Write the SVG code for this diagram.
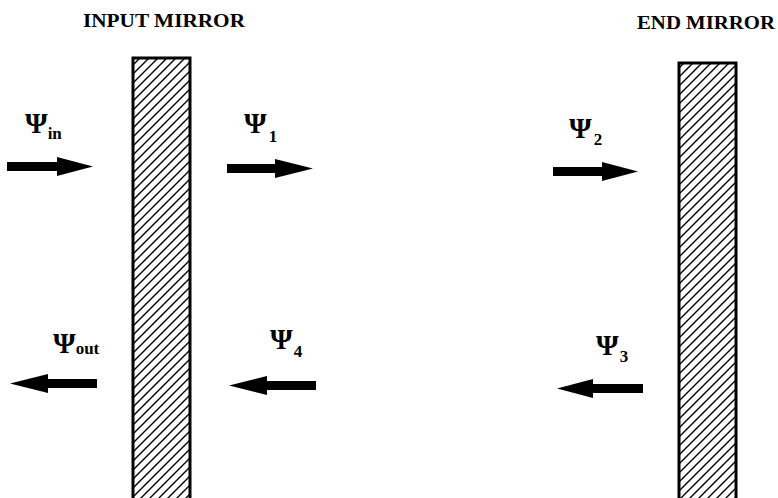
<svg xmlns="http://www.w3.org/2000/svg" width="778" height="498" viewBox="0 0 778 498">
<style>
.t{font-family:"Liberation Serif","Times New Roman",serif;font-weight:bold;fill:#000}
.title{font-size:19px}
.psi{font-size:29px}
.sub{font-size:17px}
.mirror{fill:url(#hatch);stroke:#000;stroke-width:3}
.arrow{fill:#000}
</style>
<defs>
<pattern id="hatch" patternUnits="userSpaceOnUse" width="9" height="9">
<rect width="9" height="9" fill="#fff"/>
<path d="M-2,2 L2,-2 M0,9 L9,0 M7,11 L11,7" stroke="#000" stroke-width="1.4"/>
</pattern>
</defs>
<rect width="778" height="498" fill="#fff"/>
<g id="input-mirror">
<rect class="mirror" x="133" y="58" width="57" height="442"/>
<text class="t title" x="83" y="27" textLength="162" lengthAdjust="spacingAndGlyphs">INPUT MIRROR</text>
</g>
<g id="end-mirror">
<rect class="mirror" x="679" y="63" width="57" height="440"/>
<text class="t title" x="637" y="29" textLength="138" lengthAdjust="spacingAndGlyphs">END MIRROR</text>
</g>
<g id="connectors">
<polygon id="a-in" class="arrow" points="7,162 57,162 57,157 93,166.5 57,176 57,171 7,171"/>
<polygon id="a-1" class="arrow" points="227,164 275,164 275,159 313,168.5 275,178 275,173 227,173"/>
<polygon id="a-2" class="arrow" points="553,167 602,167 602,162 638,171.5 602,181 602,176 553,176"/>
<polygon id="a-out" class="arrow" points="97,379 48,379 48,374 10,383.5 48,393 48,388 97,388"/>
<polygon id="a-4" class="arrow" points="316,381 267,381 267,376 229,385.5 267,395 267,390 316,390"/>
<polygon id="a-3" class="arrow" points="643,384 593,384 593,379 557,388.5 593,398 593,393 643,393"/>
</g>
<g id="label-in"><text class="t psi" x="25" y="133">Ψ<tspan class="sub" dy="6">in</tspan></text></g>
<g id="label-1"><text class="t psi" x="244" y="133">Ψ<tspan class="sub" dx="2" dy="9">1</tspan></text></g>
<g id="label-2"><text class="t psi" x="569" y="138">Ψ<tspan class="sub" dx="2" dy="7">2</tspan></text></g>
<g id="label-out"><text class="t psi" x="53" y="353">Ψ<tspan class="sub" dy="1">out</tspan></text></g>
<g id="label-4"><text class="t psi" x="270" y="349">Ψ<tspan class="sub" dx="1" dy="8">4</tspan></text></g>
<g id="label-3"><text class="t psi" x="596" y="355">Ψ<tspan class="sub" dx="1" dy="7">3</tspan></text></g>
</svg>
